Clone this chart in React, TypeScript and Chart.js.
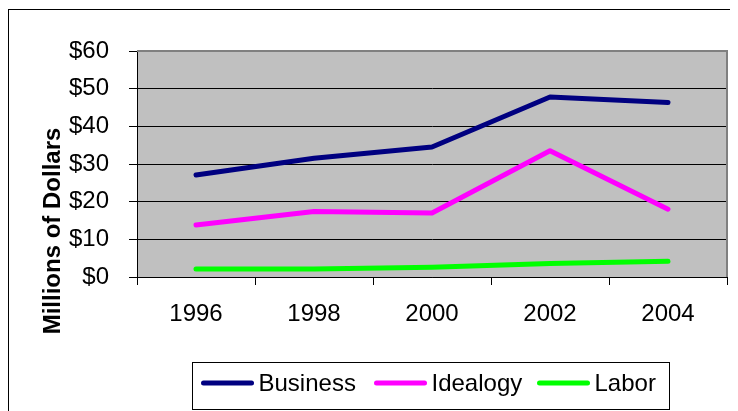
import React, { useEffect, useRef } from "react";
import { Chart, registerables } from "chart.js";

Chart.register(...registerables);

const years = ["1996", "1998", "2000", "2002", "2004"];
const business = [27.1, 31.5, 34.5, 47.8, 46.3];
const idealogy = [13.8, 17.4, 17.0, 33.5, 18.0];
const labor = [2.1, 2.1, 2.6, 3.6, 4.2];
const seriesNames = ["Business", "Idealogy", "Labor"];
const seriesColors = ["#000080", "#FF00FF", "#00FF00"];
const yTitle = "Millions of Dollars";

const FONT = "'Liberation Sans', Arial, sans-serif";

const decorPlugin = {
  id: "decor",
  beforeDraw(chart: any) {
    const { ctx, chartArea } = chart;
    ctx.save();
    ctx.fillStyle = "#FFFFFF";
    ctx.fillRect(0, 0, chart.width, chart.height);
    ctx.fillStyle = "#C0C0C0";
    ctx.fillRect(chartArea.left, chartArea.top, chartArea.right - chartArea.left, chartArea.bottom - chartArea.top);
    ctx.fillStyle = "#000000";
    ctx.fillRect(0, 1, chart.width, 1);
    ctx.fillRect(0, 1, 1, chart.height);
    ctx.restore();
  },
  beforeDatasetsDraw(chart: any) {
    const { ctx, chartArea } = chart;
    ctx.save();
    ctx.fillStyle = "#808080";
    ctx.fillRect(chartArea.left, chartArea.top - 1, chartArea.right - chartArea.left + 1, 2);
    ctx.fillRect(chartArea.right - 1, chartArea.top - 1, 2, chartArea.bottom - chartArea.top + 1);
    ctx.restore();
  },
  afterDraw(chart: any) {
    const { ctx } = chart;
    ctx.save();
    ctx.translate(52, 223);
    ctx.rotate(-Math.PI / 2);
    ctx.font = "bold 24px " + FONT;
    ctx.fillStyle = "#000";
    ctx.textAlign = "center";
    ctx.textBaseline = "alphabetic";
    ctx.fillText(yTitle, 0, 0);
    ctx.restore();

    // legend
    ctx.save();
    ctx.font = "24px " + FONT;
    const lineLen = 52;
    const gapText = 5;
    const itemOffsets = [9, 182, 345];
    const boxL = 184.5;
    const boxT = 354.5;
    const boxW = 477;
    const boxH = 47;
    ctx.strokeStyle = "#000";
    ctx.lineWidth = 1;
    ctx.strokeRect(boxL, boxT, boxW, boxH);
    const yLine = 375;
    chart.data.datasets.forEach((d: any, i: number) => {
      const x = boxL + itemOffsets[i];
      ctx.strokeStyle = d.borderColor;
      ctx.lineWidth = 5;
      ctx.lineCap = "round";
      ctx.beginPath();
      ctx.moveTo(x + 2, yLine);
      ctx.lineTo(x + lineLen - 2, yLine);
      ctx.stroke();
      ctx.fillStyle = "#000";
      ctx.textBaseline = "alphabetic";
      ctx.textAlign = "left";
      ctx.fillText(d.label, x + lineLen + gapText, 383);
    });
    ctx.restore();
  },
};

export default function App() {
  const ref = useRef<HTMLCanvasElement | null>(null);
  useEffect(() => {
    if (!ref.current) return;
    const data = [business, idealogy, labor];
    const chart = new Chart(ref.current, {
      type: "line",
      data: {
        labels: years,
        datasets: seriesNames.map((name, i) => ({
          label: name,
          data: data[i],
          borderColor: seriesColors[i],
          backgroundColor: seriesColors[i],
          borderWidth: 5,
          borderCapStyle: "round",
          borderJoinStyle: "round",
          pointRadius: 0,
          tension: 0,
          fill: false,
        })),
      },
      options: {
        responsive: false,
        animation: false,
        layout: { padding: { top: 43, right: 11, left: 0, bottom: 0 } },
        plugins: {
          legend: { display: false },
          tooltip: { enabled: false },
          title: { display: false },
        },
        scales: {
          x: {
            offset: true,
            grid: {
              offset: true,
              drawOnChartArea: false,
              drawTicks: true,
              tickLength: 8,
              color: "#000",
              tickColor: "#000",
            },
            border: { display: true, color: "#000", width: 1 },
            ticks: {
              color: "#000",
              font: { family: FONT, size: 24 },
              padding: 15,
              maxRotation: 0,
              autoSkip: false,
            },
            afterFit: (scale: any) => {
              scale.height = 134;
            },
          },
          y: {
            min: 0,
            max: 60,
            grid: {
              color: (c: any) => (c.tick && c.tick.value === 60 ? "rgba(0,0,0,0)" : "#000"),
              tickColor: "#000",
              tickLength: 8,
              drawTicks: true,
            },
            border: { display: true, color: "#000", width: 1 },
            ticks: {
              stepSize: 10,
              color: "#000",
              font: { family: FONT, size: 24 },
              padding: 20,
              callback: (v: any) => "$" + v,
            },
            afterFit: (scale: any) => {
              scale.width = 129;
            },
          },
        },
      },
      plugins: [decorPlugin],
    });
    return () => chart.destroy();
  }, []);
  return (
    <canvas
      ref={ref}
      width={730}
      height={403}
      style={{ display: "block", width: 730, height: 403 }}
    />
  );
}
